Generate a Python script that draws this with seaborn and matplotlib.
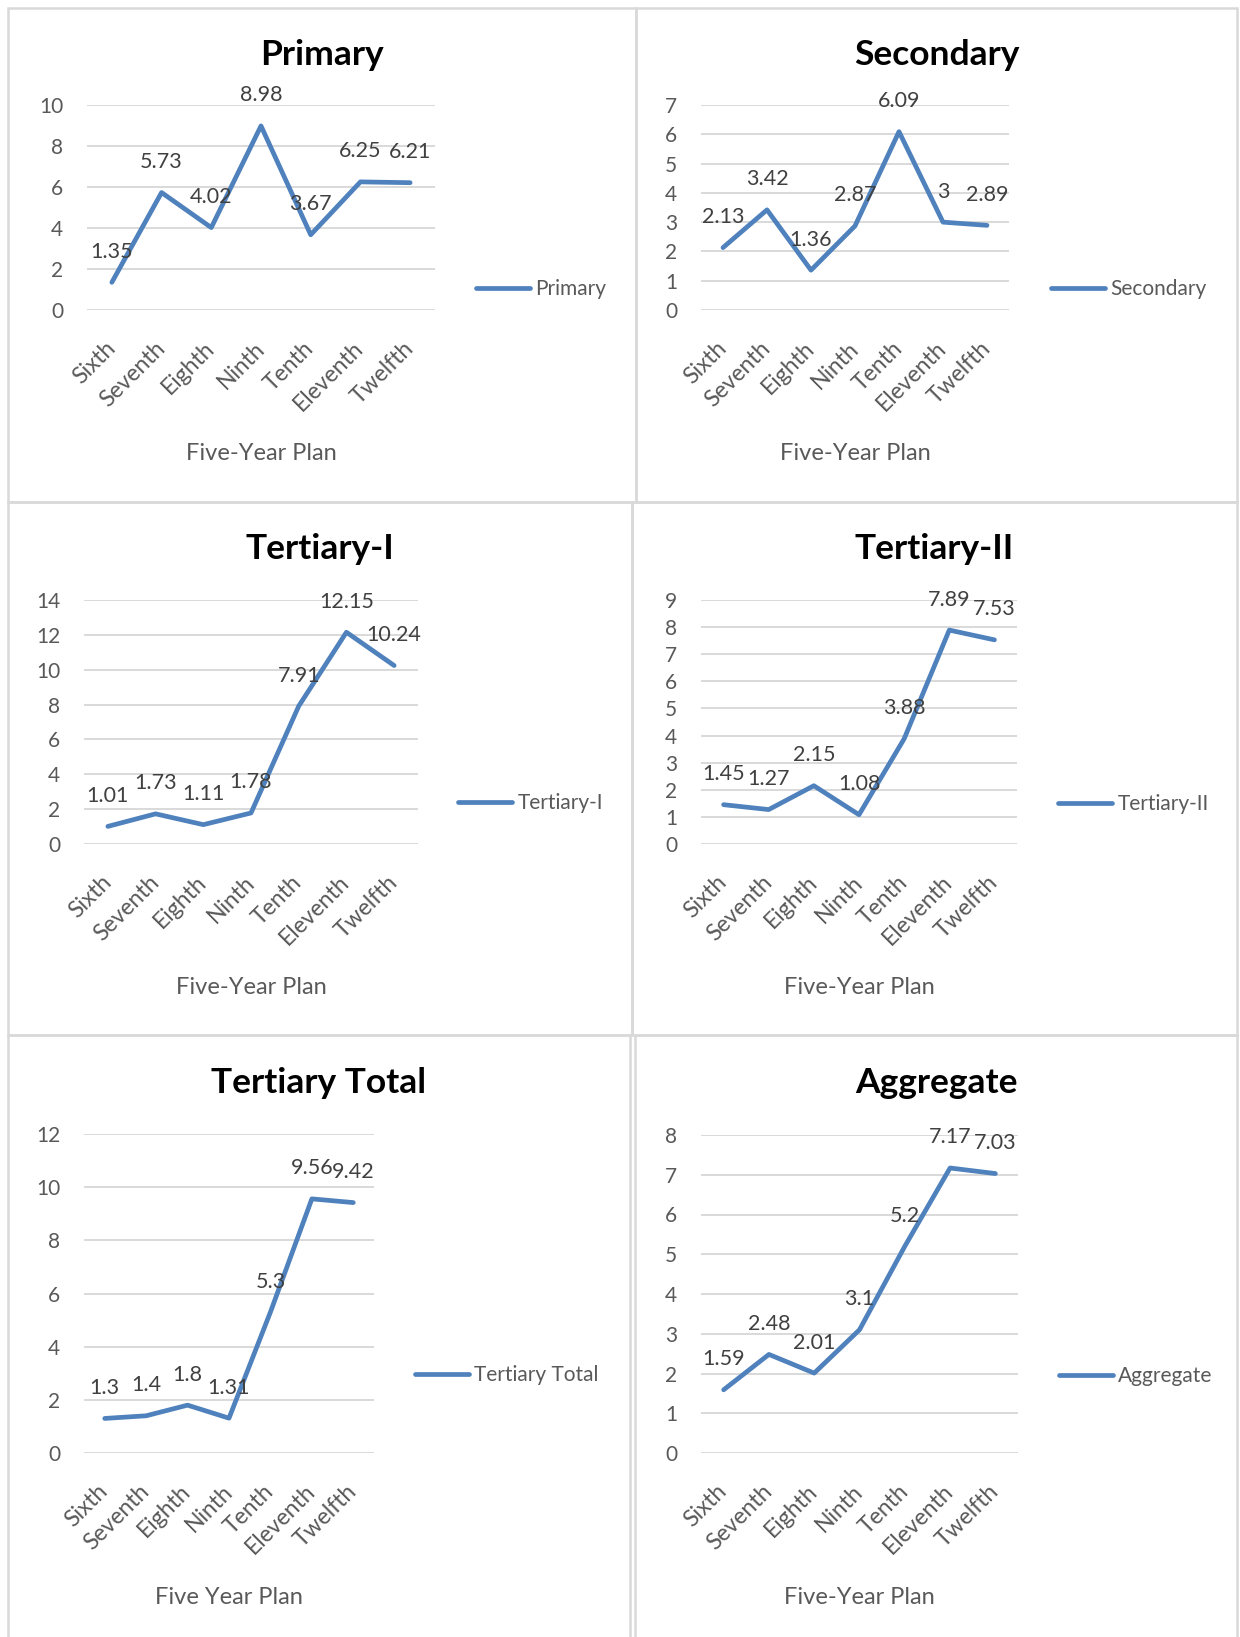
import pandas as pd
import seaborn as sns
import matplotlib.pyplot as plt
from matplotlib.patches import Rectangle


#data
plans = ["Sixth", "Seventh", "Eighth", "Ninth", "Tenth", "Eleventh", "Twelfth"]

primary = [1.35, 5.73, 4.02, 8.98, 3.67, 6.25, 6.21]
secondary = [2.13, 3.42, 1.36, 2.87, 6.09, 3, 2.89]
tertiary_1 = [1.01, 1.73, 1.11, 1.78, 7.91, 12.15, 10.24]
tertiary_2 = [1.45, 1.27, 2.15, 1.08, 3.88, 7.89, 7.53]
tertiary_total = [1.3, 1.4, 1.8, 1.31, 5.3, 9.56, 9.42]
aggregate = [1.59, 2.48, 2.01, 3.1, 5.2, 7.17, 7.03]

titles = ["Primary", "Secondary", "Tertiary-I", "Tertiary-II", "Tertiary Total", "Aggregate"]
xlabels = ["Five-Year Plan", "Five-Year Plan", "Five-Year Plan", "Five-Year Plan",
           "Five Year Plan", "Five-Year Plan"]
series = [primary, secondary, tertiary_1, tertiary_2, tertiary_total, aggregate]
ymax = [10, 7, 14, 9, 12, 8]
ystep = [2, 1, 2, 1, 2, 1]

#layout in pixels (x0, y0, x1, y1) of the full 1240x1637 picture
W, H = 1240, 1637
panels = [(8, 8, 636, 502), (636, 8, 1237, 502),
          (8, 502, 632, 1035), (632, 502, 1237, 1035),
          (8, 1035, 630, 1645), (635, 1035, 1237, 1645)]
plot_areas = [(87, 105, 435, 310), (701, 105, 1009, 310),
              (84, 600, 418, 844), (701, 600, 1017, 844),
              (84, 1134, 374, 1453), (701, 1135, 1018, 1453)]
title_y = [55, 55, 549, 549, 1083, 1083]
xlabel_y = [454, 454, 988, 988, 1598, 1598]
legend_pos = [(476, 289), (1051, 289), (458, 803), (1058, 804), (415, 1375), (1059, 1376)]

sns.set_style("white")
plt.rcParams["font.family"] = ["Lato", "DejaVu Sans"]

line_color = "#4F81BD"
grey_text = "#595959"
grid_color = "#D9D9D9"

fig = plt.figure(figsize=(W / 100, H / 100), dpi=100)
fig.patch.set_facecolor("white")

for i, vals in enumerate(series):
    px0, py0, px1, py1 = panels[i]
    fig.add_artist(Rectangle((px0 / W, 1 - py1 / H), (px1 - px0) / W, (py1 - py0) / H,
                             transform=fig.transFigure, fill=False,
                             edgecolor=grid_color, linewidth=1.8))
    fig.text((px0 + px1) / 2 / W, 1 - title_y[i] / H, titles[i], ha="center", va="center",
             fontsize=25.5, fontweight="bold", color="black")

    x0, y0, x1, y1 = plot_areas[i]
    ax = fig.add_axes([x0 / W, 1 - y1 / H, (x1 - x0) / W, (y1 - y0) / H])
    ax.set_facecolor("none")

    df = pd.DataFrame({"plan": plans, "value": vals})
    sns.lineplot(data=df, x="plan", y="value", ax=ax, sort=False, color=line_color,
                 linewidth=3.4, label=titles[i], solid_capstyle="round",
                 solid_joinstyle="round", zorder=3)

    for j, v in enumerate(vals):
        ax.annotate(f"{v:g}", (j, v), xytext=(0, 22), textcoords="offset points",
                    ha="center", va="center", fontsize=15.5, color="#404040", zorder=5)

    ax.set_xlim(-0.5, len(plans) - 0.5)
    ax.set_ylim(0, ymax[i])
    ax.set_yticks(range(0, ymax[i] + 1, ystep[i]))
    ax.set_xticks(range(len(plans)), plans, rotation=45, ha="right", va="center",
                  rotation_mode="anchor")
    ax.tick_params(axis="both", length=0, labelsize=15, labelcolor=grey_text)
    ax.tick_params(axis="x", labelsize=16.5, pad=25)
    ax.tick_params(axis="y", pad=17)
    ax.grid(axis="y", color=grid_color, linewidth=1.4)
    ax.set_axisbelow(True)
    sns.despine(ax=ax, left=True, bottom=True)

    ax.set_ylabel("")
    ax.set_xlabel(xlabels[i], fontsize=17, color=grey_text)
    ax.xaxis.label.set_va("center")
    ax.xaxis.set_label_coords(0.5, (y1 - xlabel_y[i]) / (y1 - y0))

    lx, ly = legend_pos[i]
    ax.legend(loc="center left", bbox_to_anchor=(lx / W, 1 - ly / H),
              bbox_transform=fig.transFigure, frameon=False, fontsize=15,
              labelcolor=grey_text, handlelength=2.6, handletextpad=0.25,
              borderpad=0, borderaxespad=0)

fig.savefig("out.png", dpi=100)
